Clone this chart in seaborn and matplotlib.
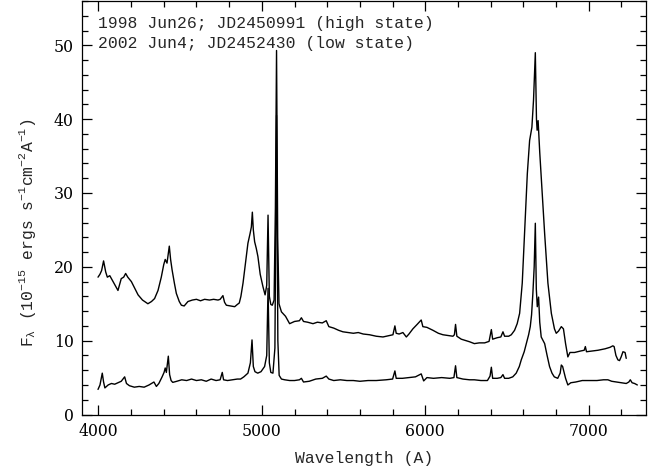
import numpy as np
import pandas as pd
import seaborn as sns
import matplotlib
matplotlib.use("Agg")
import matplotlib.pyplot as plt
from matplotlib.ticker import MultipleLocator

# ---------------- data ----------------
wl_high = [3998, 4010, 4020, 4032, 4045, 4055, 4070, 4085, 4100, 4120, 4140, 4155, 4167, 4180,
           4202, 4220, 4243, 4270, 4303, 4325, 4344, 4365, 4385, 4400, 4409, 4420, 4434, 4442,
           4451, 4465, 4477, 4495, 4508, 4525, 4548, 4575, 4600, 4625, 4650, 4680, 4705, 4732,
           4745, 4762, 4772, 4783, 4810, 4834, 4850, 4862, 4872, 4885, 4900, 4915, 4928, 4936,
           4942, 4948, 4956, 4966, 4976, 4990, 5007, 5020, 5030, 5038, 5046, 5055, 5064, 5075,
           5083, 5090, 5097, 5105, 5120, 5145, 5170, 5200, 5230, 5242, 5255, 5280, 5313, 5340,
           5370, 5394, 5410, 5440, 5470, 5496, 5530, 5560, 5590, 5620, 5659, 5700, 5741, 5780,
           5802, 5814, 5822, 5840, 5863, 5884, 5900, 5924, 5950, 5975, 5985, 6010, 6047, 6080,
           6108, 6140, 6169, 6178, 6185, 6193, 6220, 6250, 6271, 6300, 6330, 6363, 6390, 6404,
           6412, 6440, 6462, 6475, 6485, 6510, 6526, 6546, 6562, 6577, 6593, 6607, 6624, 6638,
           6652, 6662, 6673, 6680, 6684, 6690, 6700, 6709, 6730, 6750, 6771, 6790, 6801, 6815,
           6832, 6845, 6858, 6872, 6885, 6913, 6950, 6972, 6979, 6986, 7020, 7056, 7100, 7130,
           7147, 7155, 7166, 7178, 7188, 7198, 7209, 7222, 7229]
fl_high = [18.6, 19.0, 19.5, 20.8, 19.3, 18.6, 18.8, 18.2, 17.6, 16.8, 18.4, 18.6, 19.1, 18.6,
           18.0, 17.2, 16.2, 15.5, 15.0, 15.3, 15.7, 16.8, 18.6, 20.3, 21.0, 20.5, 22.8, 21.0,
           19.6, 17.8, 16.4, 15.3, 14.8, 14.7, 15.3, 15.5, 15.6, 15.4, 15.6, 15.5, 15.6, 15.5,
           15.6, 16.1, 15.2, 14.8, 14.7, 14.6, 14.9, 15.1, 16.0, 17.8, 20.5, 23.2, 24.5, 25.4,
           27.4, 25.0, 23.4, 22.5, 21.4, 19.0, 17.3, 16.2, 17.5, 27.0, 16.0, 14.9, 14.8, 15.5,
           28.0, 49.3, 24.0, 15.0, 13.9, 13.3, 12.3, 12.6, 12.7, 13.1, 12.6, 12.5, 12.3, 12.5,
           12.4, 12.7, 11.9, 11.7, 11.4, 11.2, 11.1, 11.0, 11.1, 10.9, 10.8, 10.6, 10.5, 10.7,
           10.8, 12.0, 11.0, 10.9, 11.1, 10.5, 10.9, 11.6, 12.2, 12.8, 11.9, 11.8, 11.4, 11.0,
           10.8, 10.7, 10.6, 10.8, 12.2, 10.6, 10.2, 10.0, 9.85, 9.6, 9.7, 9.7, 9.9, 11.5,
           10.2, 10.4, 10.5, 11.2, 10.6, 10.6, 10.8, 11.4, 12.3, 13.7, 17.8, 24.5, 32.6, 37.1,
           38.9, 42.6, 49.0, 40.0, 38.5, 39.8, 35.5, 32.2, 24.5, 17.8, 13.7, 11.6, 11.0, 11.3,
           11.9, 11.6, 9.6, 7.8, 8.4, 8.4, 8.6, 8.7, 9.2, 8.5, 8.6, 8.7, 8.9, 9.1,
           9.3, 9.2, 8.0, 7.4, 7.3, 7.8, 8.5, 8.4, 7.6]

wl_low = [3998, 4010, 4024, 4032, 4040, 4060, 4080, 4100, 4120, 4140, 4161, 4172, 4190, 4220,
          4250, 4280, 4310, 4325, 4340, 4355, 4370, 4390, 4402, 4409, 4416, 4428, 4436, 4445,
          4455, 4480, 4510, 4540, 4570, 4600, 4630, 4660, 4690, 4720, 4745, 4758, 4766, 4790,
          4820, 4850, 4870, 4890, 4915, 4930, 4940, 4948, 4958, 4975, 4995, 5017, 5030, 5038,
          5046, 5055, 5068, 5080, 5090, 5098, 5106, 5120, 5140, 5170, 5200, 5230, 5242, 5255,
          5290, 5330, 5370, 5394, 5410, 5440, 5480, 5520, 5560, 5600, 5650, 5700, 5760, 5800,
          5814, 5822, 5860, 5900, 5940, 5975, 5990, 6010, 6050, 6100, 6150, 6175, 6185, 6193,
          6230, 6271, 6300, 6340, 6380, 6396, 6404, 6412, 6440, 6462, 6475, 6485, 6510, 6535,
          6556, 6575, 6587, 6605, 6618, 6632, 6642, 6650, 6658, 6666, 6673, 6679, 6685, 6693,
          6700, 6709, 6730, 6745, 6760, 6775, 6789, 6810, 6825, 6832, 6840, 6850, 6858, 6872,
          6890, 6920, 6960, 7000, 7050, 7090, 7117, 7140, 7170, 7200, 7229, 7245, 7254, 7265,
          7280, 7297]
fl_low = [3.4, 4.0, 5.6, 4.4, 3.6, 4.0, 4.2, 4.1, 4.3, 4.5, 5.1, 4.2, 3.9, 3.7,
          3.8, 3.7, 4.0, 4.2, 4.4, 3.8, 4.2, 5.1, 5.7, 6.3, 5.7, 7.9, 5.4, 4.6,
          4.35, 4.5, 4.7, 4.6, 4.8, 4.6, 4.7, 4.5, 4.8, 4.6, 4.7, 5.7, 4.7, 4.6,
          4.7, 4.8, 4.8, 5.1, 5.6, 7.0, 10.1, 6.5, 5.8, 5.6, 5.8, 6.5, 8.0, 17.1,
          7.0, 5.7, 5.6, 9.0, 40.5, 10.0, 5.3, 4.8, 4.7, 4.6, 4.6, 4.7, 4.9, 4.4,
          4.5, 4.8, 4.9, 5.2, 4.8, 4.6, 4.7, 4.6, 4.6, 4.5, 4.6, 4.6, 4.7, 4.8,
          5.9, 4.9, 4.9, 5.0, 5.1, 5.5, 4.55, 5.0, 4.9, 5.0, 4.9, 5.0, 6.6, 5.0,
          4.8, 4.7, 4.7, 4.6, 4.6, 5.2, 6.4, 4.9, 4.9, 5.0, 5.4, 4.9, 4.9, 5.1,
          5.6, 6.5, 7.4, 8.5, 9.6, 10.8, 11.9, 13.5, 16.4, 20.0, 25.9, 17.0, 14.6, 15.9,
          12.5, 10.5, 9.6, 8.0, 6.5, 5.6, 5.1, 4.9, 5.6, 6.7, 6.5, 5.6, 4.9, 4.0,
          4.3, 4.4, 4.6, 4.6, 4.6, 4.7, 4.7, 4.5, 4.4, 4.3, 4.2, 4.4, 4.7, 4.3,
          4.2, 4.0]

legend_lines = ["1998 Jun26; JD2450991 (high state)",
                "2002 Jun4; JD2452430 (low state)"]
x_label = "Wavelength (A)"
y_label = r"F$_{\mathrm{λ}}$ (10$^{-15}$ ergs s$^{-1}$cm$^{-2}$A$^{-1}$)"

# ---------------- plot ----------------
sns.set_theme(style="ticks")
plt.rcParams["font.family"] = ["Liberation Mono", "DejaVu Sans"]
plt.rcParams["mathtext.fontset"] = "custom"
plt.rcParams["mathtext.rm"] = "Liberation Mono"
plt.rcParams["mathtext.it"] = "Liberation Mono"
plt.rcParams["axes.unicode_minus"] = True

fig = plt.figure(figsize=(6.66, 4.72), dpi=100)
ax = fig.add_axes([82 / 666, (472 - 414.5) / 472, (646 - 82) / 666, (414.5 - 1) / 472])

df_high = pd.DataFrame({"wl": wl_high, "flux": fl_high})
df_low = pd.DataFrame({"wl": wl_low, "flux": fl_low})
sns.lineplot(data=df_high, x="wl", y="flux", ax=ax, color="black", lw=1.0, estimator=None)
sns.lineplot(data=df_low, x="wl", y="flux", ax=ax, color="black", lw=1.0, estimator=None)

ax.set_xlim(3900, 7350)
ax.set_ylim(0, 56)
ax.xaxis.set_major_locator(MultipleLocator(1000))
ax.xaxis.set_minor_locator(MultipleLocator(200))
ax.yaxis.set_major_locator(MultipleLocator(10))
ax.yaxis.set_minor_locator(MultipleLocator(2))
ax.tick_params(which="both", direction="in", top=True, right=True, colors="black",
               labelsize=11.3, width=0.9)
ax.tick_params(which="major", length=7.2, pad=6)
ax.tick_params(which="minor", length=4.5)
for lab in ax.get_xticklabels() + ax.get_yticklabels():
    lab.set_family("DejaVu Serif")
for sp in ax.spines.values():
    sp.set_linewidth(0.9)
    sp.set_color("black")

ax.set_xlabel(x_label, fontsize=11.8, labelpad=8)
ax.set_ylabel(y_label, fontsize=11.8)
ax.yaxis.set_label_coords(-0.078, 0.44)

ax.text(0.028, 0.945, legend_lines[0], transform=ax.transAxes, fontsize=11.8,
        va="center", ha="left")
ax.text(0.028, 0.897, legend_lines[1], transform=ax.transAxes, fontsize=11.8,
        va="center", ha="left")

fig.savefig("out.png", dpi=100)
